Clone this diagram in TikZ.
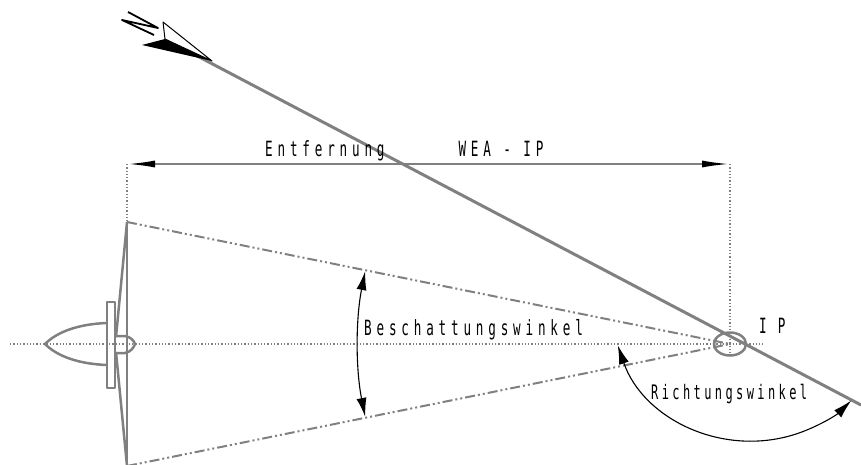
\documentclass[tikz,border=0pt]{standalone}
\usepackage{fontspec}
\usepackage{tikz}
\usetikzlibrary{shapes}
\usetikzlibrary{arrows.meta}
\usetikzlibrary{calc}
\newfontfamily\cadfont{DejaVu Sans Mono}[FakeStretch=0.6]
\pgfdeclarelayer{edgelayer}
\pgfdeclarelayer{nodelayer}
\pgfsetlayers{edgelayer,nodelayer,main}
\tikzstyle{none}=[inner sep=0pt]
\definecolor{linegray}{rgb}{0.5,0.5,0.5}
\tikzstyle{cadtext}=[inner sep=0pt, anchor=base west, font=\cadfont\fontsize{21}{21}\selectfont\addfontfeature{LetterSpace=23}]
\tikzstyle{body}=[draw=linegray, line width=2.5pt, line join=round]
\tikzstyle{axisline}=[draw=linegray, line width=1.3pt, dash pattern=on 1.3pt off 2pt]
\tikzstyle{shadowline}=[draw=linegray, line width=2pt, dash pattern=on 10pt off 3pt on 2pt off 3pt on 2pt off 3pt]
\tikzstyle{anglearrow}=[draw=black, line width=1.1pt, {Latex[length=19pt,width=10pt]}-{Latex[length=19pt,width=10pt]}]

\begin{document}
\begin{tikzpicture}[x=1pt, y=-1pt]
    \useasboundingbox (0,0) rectangle (861,465);
    \begin{pgfonlayer}{nodelayer}
	\node [style=none] (0) at (127, 222) {};
	\node [style=none] (1) at (127, 466) {};
	\node [style=none] (2) at (730, 344) {};
	\node [style=none] (3) at (127, 164) {};
	\node [style=none] (4) at (730, 164) {};
	\node [style=none] (5) at (10, 344) {};
	\node [style=none] (6) at (763, 344) {};
	\node [style=none] (7) at (730, 355) {};
	\node [style=none] (8) at (165, 39) {};
	\node [style=none] (9) at (861, 405) {};
	\node [style=none, ellipse, draw=linegray, line width=2.5pt, minimum width=32pt, minimum height=23pt] (10) at (730, 344) {};
	\node [style=none] (11) at (752, 299) {};
	\node [cadtext] (12) at (265, 157) {Entfernung\hspace{74pt}WEA - IP};
	\node [cadtext] (13) at (364, 335) {Beschattungswinkel};
	\node [cadtext, font=\cadfont\fontsize{20}{20}\selectfont\addfontfeature{LetterSpace=17}] (14) at (651, 399) {Richtungswinkel};
	\node [cadtext] (15) at (759, 333) {I\hspace{11pt}P};
    \end{pgfonlayer}
    \begin{pgfonlayer}{edgelayer}
	% centre lines
	\draw [axisline] (5.center) to (6.center);
	\draw [axisline] (3.center) to (0.center);
	\draw [axisline] (4.center) to (7.center);
	\draw [shadowline] (0.center) to (2.center);
	\draw [shadowline] (1.center) to (2.center);
	% distance
	\draw [draw=linegray, line width=2pt, {Latex[length=28pt,width=7pt,black]}-{Latex[length=28pt,width=7pt,black]}] (3.center) to (4.center);
	% wind turbine
	\draw [body] (0.center) to (1.center);
	\draw [body] (0.center) to (116, 337);
	\draw [body] (116, 352) to (1.center);
	\draw [body] (107, 302) rectangle (115, 388);
	\draw [body] (115, 336) -- (125, 336) .. controls (131, 337) and (134, 341) .. (135, 344) .. controls (134, 347) and (131, 352) .. (125, 353) -- (115, 353);
	\draw [body] (107, 323) .. controls (80, 324) and (58, 331) .. (45, 344) .. controls (58, 357) and (80, 364) .. (107, 365);
	% direction line
	\draw [draw=linegray, line width=3pt] (8.center) to (9.center);
	\fill (142, 45) -- (8.center) -- (212, 61) -- cycle;
	\filldraw [fill=white, draw=black, line width=1pt, line join=round] (163, 22) -- (212, 61) -- (8.center) -- cycle;
	\draw [line width=1.8pt, line join=round] (128, 12) -- (158, 28) -- (122, 20) -- (154, 35);
	% angles
	\draw [anglearrow] ($(2)+(191.3:372)$) arc [start angle=191.3, end angle=168.7, radius=372];
	\draw [anglearrow] ($(11)+(161:142)$) arc [start angle=161, end angle=45.6, radius=142];
    \end{pgfonlayer}
\end{tikzpicture}
\end{document}
